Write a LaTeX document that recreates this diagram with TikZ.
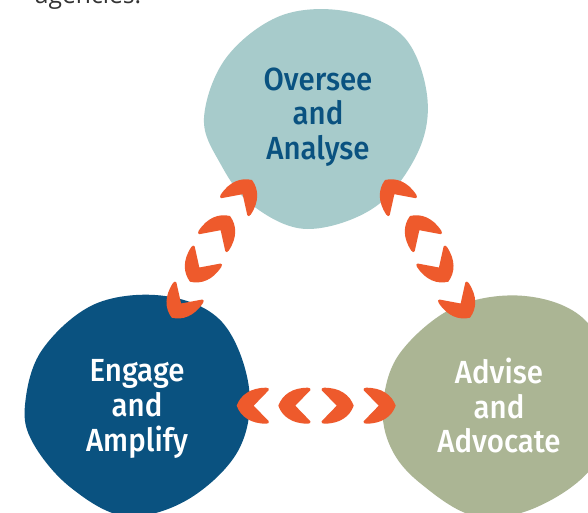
\documentclass[tikz,border=0pt]{standalone}
\usepackage{fontspec}
\setmainfont[FakeStretch=0.92]{Fira Sans Medium}
\newfontfamily\topfont{Open Sans}
\definecolor{tealblob}{HTML}{A7CBCB}
\definecolor{navyblob}{HTML}{0A5280}
\definecolor{sageblob}{HTML}{ABB594}
\definecolor{chev}{HTML}{EE5A2C}
\definecolor{navytext}{HTML}{0A5280}
\tikzset{
  blobtext/.style={align=center,font=\fontsize{24}{26}\selectfont,inner sep=0pt},
  chevron/.pic={\fill[chev,line join=round]
    (0,0) .. controls (4,-11) and (14,-18) .. (29.5,-18)
    .. controls (31.5,-18) and (33,-17) .. (32,-15.5)
    -- (17,0)
    -- (32,15.5)
    .. controls (33,17) and (31.5,18) .. (29.5,18)
    .. controls (14,18) and (4,11) .. (0,0) -- cycle;}
}
\begin{document}
\begin{tikzpicture}[x=0.75pt,y=-0.75pt]
\useasboundingbox (0,0) rectangle (588,513);
\clip (0,0) rectangle (588,513);
\fill[white] (0,0) rectangle (588,513);
\node[anchor=base,text=black!80,font=\topfont\fontsize{18.5}{20}\selectfont,inner sep=0pt] (intro) at (88,4) {agencies.};
\fill[tealblob] plot[smooth cycle,tension=0.6] coordinates {(204,118) (226,58) (280,16) (345,11) (403,36) (427,95) (418,152) (375,207) (307,229) (252,205) (220,163)};
\fill[navyblob] plot[smooth cycle,tension=0.6] coordinates {(25,405) (42,350) (95,304) (165,296) (222,322) (249,388) (238,451) (187,500) (125,516) (70,487) (33,443)};
\fill[sageblob] plot[smooth cycle,tension=0.6] coordinates {(383,405) (400,353) (455,307) (525,296) (585,320) (615,385) (596,462) (537,507) (475,516) (420,483) (391,448)};
\node[blobtext,text=navytext] (over) at (318,117) {Oversee\\and\\Analyse};
\node[blobtext,text=white] (eng) at (137,409) {Engage\\and\\Amplify};
\node[blobtext,text=white] (adv) at (499,405.5) {Advise\\and\\Advocate};
\path (236.7,405.7) pic {chevron};
\path (278.3,405.7) pic {chevron};
\path (353.7,405.7) pic[rotate=180] {chevron};
\path (395.7,405.7) pic[rotate=180] {chevron};
\path (252,180) pic[rotate=-123.4] {chevron};
\path (230,216) pic[rotate=-123.4] {chevron};
\path (190,281.7) pic[rotate=56.6] {chevron};
\path (171.7,317.7) pic[rotate=56.6] {chevron};
\path (385,180) pic[rotate=-56.6] {chevron};
\path (410,216) pic[rotate=-56.6] {chevron};
\path (448.3,281.7) pic[rotate=123.4] {chevron};
\path (470,317.7) pic[rotate=123.4] {chevron};
\end{tikzpicture}
\end{document}
